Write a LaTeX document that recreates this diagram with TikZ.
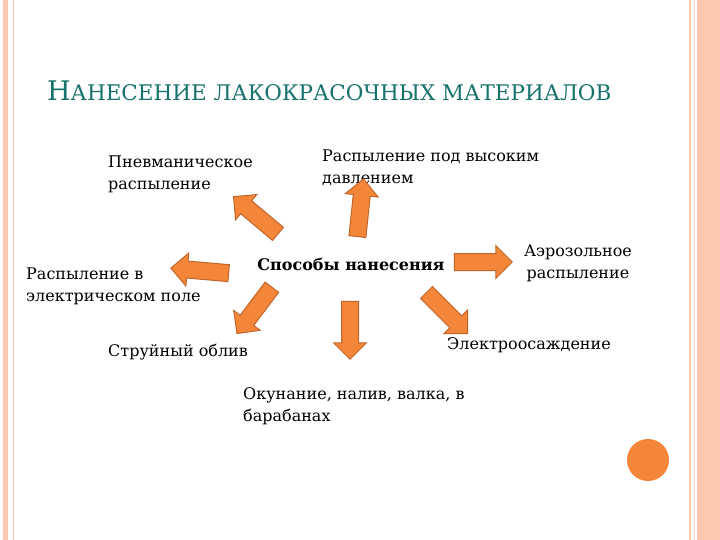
\documentclass[tikz,border=0pt]{standalone}
\usepackage{fontspec}
\setmainfont{DejaVu Serif}
\usetikzlibrary{shapes.arrows}
\definecolor{salmon}{HTML}{FCC8B0}
\definecolor{teal1}{HTML}{17726C}
\definecolor{orfill}{HTML}{F4863A}
\definecolor{ordraw}{HTML}{C2652A}
\tikzset{
 lbl/.style={anchor=north west,align=left,inner sep=0,font=\fontsize{16}{22}\selectfont},
 barrow/.style={single arrow,draw=ordraw,fill=orfill,line width=1pt,minimum width=32pt,
   inner xsep=0pt,inner ysep=8pt,text height=0pt,text depth=0pt,single arrow head extend=8pt,minimum height=58pt}
}
\begin{document}
\begin{tikzpicture}[x=1pt,y=-1pt]
\useasboundingbox (0,0) rectangle (720,540);
\fill[white] (0,0) rectangle (720,540);
% borders
\fill[salmon] (3,0) rectangle (8,540);
\draw[salmon,line width=0.8pt] (13,0) -- (13,540);
\fill[salmon] (697,0) rectangle (720,540);
\draw[salmon,line width=1.5pt] (690,0) -- (690,540);
\draw[salmon!60,line width=1pt] (694,0) -- (694,540);
% title
\node[anchor=base west,inner sep=0,text=teal1] (title) at (47,101)
  {\fontsize{27}{27}\selectfont Н\fontsize{21.5}{21}\selectfont АНЕСЕНИЕ ЛАКОКРАСОЧНЫХ МАТЕРИАЛОВ};
% texts
\node[lbl] (t1) at (108,156) {Пневманическое\\распыление};
\node[lbl] (t2) at (322,150) {Распыление под высоким\\давлением};
\node[anchor=center,inner sep=0,font=\fontsize{16}{16}\bfseries\selectfont] (c) at (351,264) {Способы нанесения};
\node[lbl,align=center,anchor=north] (t3) at (578,245) {Аэрозольное\\распыление};
\node[lbl] (t4) at (26,268) {Распыление в\\электрическом поле};
\node[lbl] (t5) at (108,344) {Струйный облив};
\node[lbl] (t6) at (447,337) {Электроосаждение};
\node[lbl] (t7) at (243,387) {Окунание, налив, валка, в\\барабанах};
% arrows
\node[barrow,rotate=140] (a1) at (259,218) {};
\node[barrow,rotate=84] (a2) at (360,212) {};
\node[barrow] (a3) at (479,262) {};
\node[barrow,rotate=175] (a4) at (204,271) {};
\node[barrow,rotate=233] (a5) at (257,307) {};
\node[barrow,rotate=270] (a6) at (350,326) {};
\node[barrow,rotate=-45] (a7) at (444,310) {};
% circle
\fill[orfill] (648,460) circle (21);
\end{tikzpicture}
\end{document}
